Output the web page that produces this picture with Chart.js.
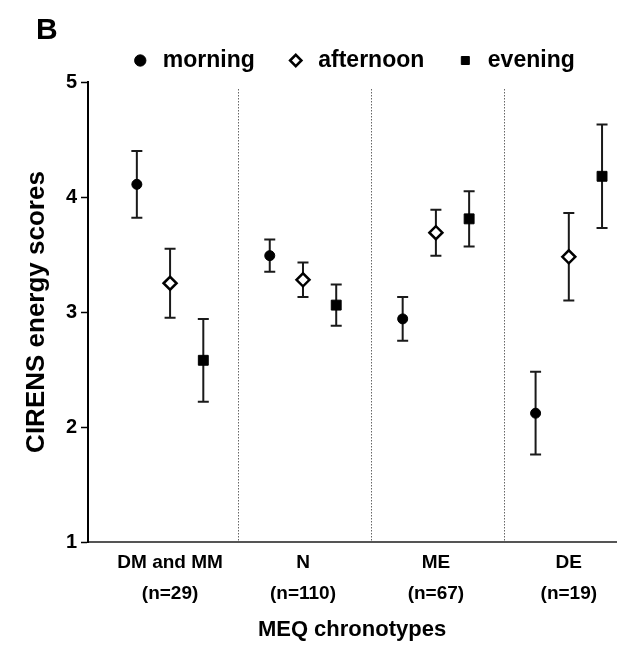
<!DOCTYPE html>
<html>
<head>
<meta charset="utf-8">
<script src="https://cdn.jsdelivr.net/npm/chart.js@4/dist/chart.umd.min.js"></script>
<style>
  html, body { margin: 0; padding: 0; background: #fff; }
  #wrap { width: 617px; height: 645px; position: relative; }
</style>
</head>
<body>
<div id="wrap"><canvas id="energia"></canvas></div>
<script>
// grupos de cronotipo (eje x)
const grupos = ['DM and MM', 'N', 'ME', 'DE'];
const nGrupo = ['(n=29)', '(n=110)', '(n=67)', '(n=19)'];

// medias y error por momento del día
const morning = [4.11, 3.49, 2.94, 2.12];
const morningErr = [0.29, 0.14, 0.19, 0.36];
const afternoon = [3.25, 3.28, 3.69, 3.48];
const afternoonErr = [0.30, 0.15, 0.20, 0.38];
const evening = [2.58, 3.06, 3.81, 4.18];
const eveningErr = [0.36, 0.18, 0.24, 0.45];

const yTicks = [1, 2, 3, 4, 5];

const FONT = '"Liberation Sans", Arial, sans-serif';

// cada grupo ocupa 4 posiciones: 3 puntos y un hueco
const serie = (vals, errs, k) => vals.map((v, g) => ({ x: g * 4 + k, y: v, err: errs[g] }));

// barras de error (debajo de los puntos)
const barrasError = {
  id: 'barrasError',
  beforeDatasetsDraw(chart) {
    const { ctx, scales: { x, y } } = chart;
    ctx.save();
    ctx.strokeStyle = '#1a1a1a';
    ctx.lineWidth = 2;
    chart.data.datasets.forEach(ds => {
      ds.data.forEach(p => {
        const px = x.getPixelForValue(p.x);
        const top = y.getPixelForValue(p.y + p.err);
        const bot = y.getPixelForValue(p.y - p.err);
        ctx.beginPath();
        ctx.moveTo(px, top); ctx.lineTo(px, bot);
        ctx.moveTo(px - 5.5, top); ctx.lineTo(px + 5.5, top);
        ctx.moveTo(px - 5.5, bot); ctx.lineTo(px + 5.5, bot);
        ctx.stroke();
      });
    });
    ctx.restore();
  }
};

// separadores punteados entre grupos y la letra del panel
const separadores = {
  id: 'separadores',
  beforeDatasetsDraw(chart) {
    const { ctx, chartArea, scales: { x } } = chart;
    ctx.save();
    ctx.strokeStyle = '#666';
    ctx.lineWidth = 1;
    ctx.setLineDash([1.5, 1.5]);
    for (let g = 1; g < grupos.length; g++) {
      const px = Math.round(x.getPixelForValue(g * 4 - 0.95)) + 0.5;
      ctx.beginPath();
      ctx.moveTo(px, chartArea.top + 7);
      ctx.lineTo(px, chartArea.bottom);
      ctx.stroke();
    }
    ctx.restore();
  },
  afterDraw(chart) {
    const ctx = chart.ctx;
    ctx.save();
    ctx.fillStyle = '#000';
    ctx.font = 'bold 30px ' + FONT;
    ctx.textBaseline = 'middle';
    ctx.fillText('B', 36, 31);
    ctx.restore();
  }
};

new Chart(document.getElementById('energia'), {
  type: 'scatter',
  data: {
    datasets: [{
      label: 'morning',
      data: serie(morning, morningErr, 0),
      pointStyle: 'circle',
      pointRadius: 5,
      backgroundColor: '#000',
      borderColor: '#000',
      borderWidth: 1
    }, {
      label: 'afternoon',
      data: serie(afternoon, afternoonErr, 1),
      pointStyle: 'rectRot',
      pointRadius: 6.5,
      backgroundColor: '#fff',
      borderColor: '#000',
      borderWidth: 2.5
    }, {
      label: 'evening',
      data: serie(evening, eveningErr, 2),
      pointStyle: 'rect',
      pointRadius: 7,
      backgroundColor: '#000',
      borderColor: '#000',
      borderWidth: 1
    }]
  },
  options: {
    responsive: true,
    maintainAspectRatio: false,
    animation: false,
    layout: { autoPadding: false, padding: { top: 19, right: 1, bottom: 0, left: 0 } },
    plugins: {
      tooltip: { enabled: false },
      legend: {
        position: 'top',
        fullSize: false,
        labels: {
          usePointStyle: true,
          boxWidth: 22,
          boxHeight: 8,
          padding: 30,
          color: '#000',
          font: { family: FONT, size: 23, weight: 'bold' }
        }
      }
    },
    scales: {
      x: {
        type: 'linear',
        min: -1.47,
        max: 14.42,
        afterBuildTicks: s => { s.ticks = grupos.map((_, g) => ({ value: g * 4 + 1 })); },
        afterFit: s => { s.height = 103; },
        grid: { display: false, drawTicks: false },
        border: { display: true, color: '#555', width: 2 },
        ticks: {
          padding: 6,
          color: '#000',
          maxRotation: 0,
          font: { family: FONT, size: 19, weight: 'bold', lineHeight: 1.6 },
          callback: v => { const g = (v - 1) / 4; return [grupos[g], nGrupo[g]]; }
        },
        title: {
          display: true,
          text: 'MEQ chronotypes',
          color: '#000',
          padding: { top: 0, bottom: 2 },
          font: { family: FONT, size: 22, weight: 'bold' }
        }
      },
      y: {
        min: 1,
        max: 5,
        afterBuildTicks: s => { s.ticks = yTicks.map(v => ({ value: v })); },
        afterFit: s => { s.width = 88; },
        grid: { display: true, drawOnChartArea: false, tickLength: 7, tickColor: '#000', tickWidth: 1.5 },
        border: { display: true, color: '#000', width: 2 },
        ticks: {
          padding: 4,
          color: '#000',
          font: { family: FONT, size: 20, weight: 'bold' }
        },
        title: {
          display: true,
          text: 'CIRENS energy scores',
          color: '#000',
          padding: { top: 21, bottom: 0 },
          font: { family: FONT, size: 26, weight: 'bold' }
        }
      }
    }
  },
  plugins: [barrasError, separadores]
});
</script>
</body>
</html>
